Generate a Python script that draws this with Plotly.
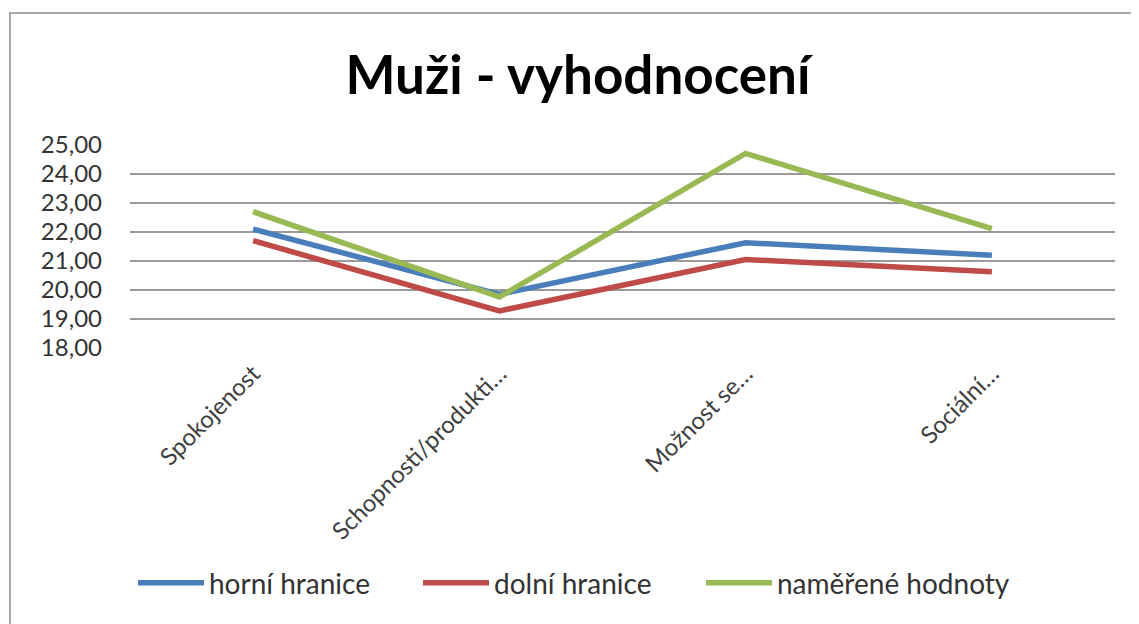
import plotly.graph_objects as go

categories = ["Spokojenost", "Schopnosti/produkti…", "Možnost se…", "Sociální…"]
horni = [22.1, 19.85, 21.63, 21.2]
dolni = [21.7, 19.28, 21.05, 20.63]
namerene = [22.7, 19.76, 24.71, 22.12]
series_names = ["horní hranice", "dolní hranice", "naměřené hodnoty"]
colors = ["#4a7ebb", "#be4b48", "#98b954"]
y_ticks = [18, 19, 20, 21, 22, 23, 24, 25]

# page has an 8px body margin; figure coordinates = screen - 8
OFF = 8
W, H = 1131, 616
ML, MR, MT, MB = 130 - OFF, W - (1115 - OFF), 145 - OFF, H - (348 - OFF)
pw, ph = W - ML - MR, H - MT - MB

def px_x(p):
    return (p - OFF - ML) / pw

def px_y(p):
    return (H - MB - (p - OFF)) / ph

font_fam = "Lato, 'Open Sans', sans-serif"
legend_ids = ["legend", "legend2", "legend3"]
legend_x = [133, 418, 701]

fig = go.Figure()
for name, vals, c, lid in zip(series_names, [horni, dolni, namerene], colors, legend_ids):
    fig.add_trace(go.Scatter(x=categories, y=vals, mode="lines", name=name,
                             line=dict(color=c, width=5.5), legend=lid, showlegend=True))

legend_layout = {}
for lid, lx in zip(legend_ids, legend_x):
    legend_layout[lid] = dict(orientation="h", x=px_x(lx), xanchor="left",
                              y=px_y(583), yanchor="middle",
                              font=dict(family=font_fam, size=28, color="#333333"),
                              itemwidth=66, bgcolor="rgba(0,0,0,0)")

fig.update_layout(
    width=W, height=H,
    showlegend=True,
    margin=dict(l=ML, r=MR, t=MT, b=MB),
    paper_bgcolor="white", plot_bgcolor="white",
    separators=", ",
    title=dict(text="<b>Muži - vyhodnocení</b>", x=(578 - OFF) / W, xanchor="center",
               y=1 - (75 - OFF) / H, yanchor="middle",
               font=dict(family=font_fam, size=53, color="#000000")),
    xaxis=dict(type="category", range=[-0.5, 3.5], showgrid=False, showline=False,
               ticks="", tickangle=-45, ticklabelstandoff=6,
               tickfont=dict(family=font_fam, size=24, color="#404040")),
    yaxis=dict(range=[18, 25], tickvals=y_ticks, tickformat=".2f",
               showgrid=True, gridcolor="#9a9a9a", gridwidth=2,
               zeroline=False, showline=False, ticks="", ticklabelstandoff=27,
               tickfont=dict(family=font_fam, size=24, color="#333333")),
    shapes=[dict(type="rect", xref="paper", yref="paper",
                 x0=px_x(10), x1=px_x(1300), y0=px_y(13), y1=px_y(800),
                 line=dict(color="#8c8c8c", width=1.5), layer="below")],
    **legend_layout,
)

fig.write_html("out.html")
